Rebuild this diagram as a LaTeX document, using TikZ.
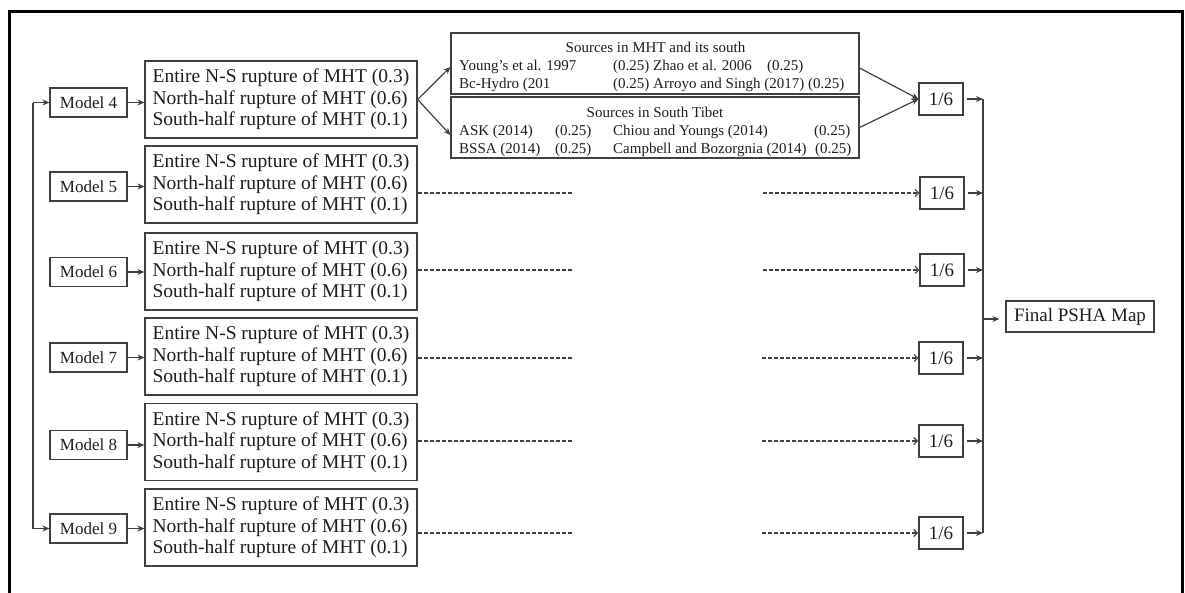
\documentclass[tikz,border=0pt]{standalone}
\usepackage{fontspec}
\setmainfont{Liberation Serif}
\usetikzlibrary{arrows.meta}
\definecolor{ln}{HTML}{404040}
\definecolor{tx}{HTML}{1E1E1E}
\newcommand\rupTxt{Entire N-S rupture of MHT (0.3)\\North-half rupture of MHT (0.6)\\South-half rupture of MHT (0.1)}
\begin{document}
\begin{tikzpicture}[x=1pt,y=-1pt,
 box/.style={draw=ln,line width=1.2pt,inner sep=0pt,text=tx},
 modelbox/.style={box,minimum width=77pt,minimum height=29pt,font=\fontsize{17}{20}\selectfont},
 rupbox/.style={box,minimum width=272pt,minimum height=77pt,align=left,font=\fontsize{19.5}{21.5}\selectfont},
 srcbox/.style={box,minimum width=408pt,minimum height=61pt},
 wbox/.style={box,minimum width=44pt,minimum height=32pt,font=\fontsize{19}{22}\selectfont},
 finbox/.style={box,minimum width=148pt,minimum height=31pt,font=\fontsize{19}{22}\selectfont},
 stxt/.style={anchor=base west,inner sep=0pt,text=tx,font=\fontsize{15}{18}\selectfont},
 ctxt/.style={anchor=base,inner sep=0pt,text=tx,font=\fontsize{15}{18}\selectfont},
 conn/.style={draw=ln,line width=1.2pt},
 arr/.style={conn,-{Stealth[length=7pt,width=6pt]}},
 dsh/.style={draw=ln,line width=1.1pt,dash pattern=on 4pt off 2pt},
 darr/.style={dsh,-{Straight Barb[length=3.5pt,width=7pt]}}
]
\useasboundingbox (0,0) rectangle (1185,592);
\draw[black,line width=3pt] (9.5,600) -- (9.5,11.5) -- (1182.5,11.5) -- (1182.5,600);

% model boxes
\node[modelbox] (m4) at (88.5,102.5) {Model 4};
\node[modelbox] (m5) at (88.5,186.5) {Model 5};
\node[modelbox] (m6) at (88.5,272) {Model 6};
\node[modelbox] (m7) at (88.5,357.5) {Model 7};
\node[modelbox] (m8) at (88.5,445) {Model 8};
\node[modelbox] (m9) at (88.5,528.5) {Model 9};

% rupture boxes
\node[rupbox] (r4) at (281,99.5) {\rupTxt};
\node[rupbox] (r5) at (281,184.5) {\rupTxt};
\node[rupbox] (r6) at (281,271.5) {\rupTxt};
\node[rupbox] (r7) at (281,356.5) {\rupTxt};
\node[rupbox] (r8) at (281,442) {\rupTxt};
\node[rupbox] (r9) at (281,527.5) {\rupTxt};

% source boxes
\node[srcbox] (s1) at (655,63.5) {};
\node[srcbox] (s2) at (655,127.5) {};
\node[ctxt] (s1t) at (655.5,52) {Sources in MHT and its south};
\node[stxt] (s1a) at (459,70) {Young’s et al. 1997};
\node[stxt] (s1b) at (613,70) {(0.25) Zhao et al. 2006};
\node[stxt] (s1c) at (767,70) {(0.25)};
\node[stxt] (s1d) at (459,88) {Bc-Hydro (201};
\node[stxt] (s1e) at (613,88) {(0.25) Arroyo and Singh (2017) (0.25)};
\node[ctxt] (s2t) at (655,117) {Sources in South Tibet};
\node[stxt] (s2a) at (459,135) {ASK (2014)};
\node[stxt] (s2b) at (555,135) {(0.25)};
\node[stxt] (s2c) at (613,135) {Chiou and Youngs (2014)};
\node[stxt] (s2d) at (814,135) {(0.25)};
\node[stxt] (s2e) at (459,153) {BSSA (2014)};
\node[stxt] (s2f) at (555,153) {(0.25)};
\node[stxt] (s2g) at (613,153) {Campbell and Bozorgnia (2014)};
\node[stxt] (s2h) at (815,153) {(0.25)};

% weight boxes
\node[wbox] (w4) at (941,99) {1/6};
\node[wbox] (w5) at (942,193) {1/6};
\node[wbox] (w6) at (942,270) {1/6};
\node[wbox] (w7) at (941,358) {1/6};
\node[wbox,line width=2pt] (w8) at (941,441) {1/6};
\node[wbox,line width=2pt] (w9) at (941,533) {1/6};

\node[finbox] (fin) at (1080,316.5) {Final PSHA Map};

% left spine
\coordinate (l4) at (33,102.5);
\coordinate (l9) at (33,528.5);
\draw[conn] (l4) -- (l9);
\draw[arr] (l4) -- (m4.west);
\draw[arr] (l9) -- (m9.west);

% model -> rupture
\foreach \i in {4,...,9}{
  \draw[arr] (m\i.east) -- (m\i.east -| r\i.west);
}

% rupture 4 -> sources -> weight
\draw[arr] (r4.east) -- ([yshift=-3.5pt]s1.west);
\draw[arr] (r4.east) -- ([yshift=-7.5pt]s2.west);
\draw[arr] ([yshift=-4.5pt]s1.east) -- (w4.west);
\draw[arr] (s2.east) -- (w4.west);

% dashed links
\foreach \i in {5,...,9}{
  \draw[dsh] (r\i.east |- w\i.west) -- ++(156,0);
  \draw[darr] ([xshift=-156pt]w\i.west) -- (w\i.west);
}

% right spine
\foreach \i in {4,...,9}{
  \coordinate (v\i) at (w\i.east -| 983,0);
}
\draw[conn] (v4) -- (v9);
\foreach \i in {4,...,9}{
  \draw[arr,shorten <=3pt] (w\i.east) -- (v\i);
}
\coordinate (vf) at (983,319);
\draw[arr,shorten >=6pt] (vf) -- (vf -| fin.west);
\end{tikzpicture}
\end{document}
